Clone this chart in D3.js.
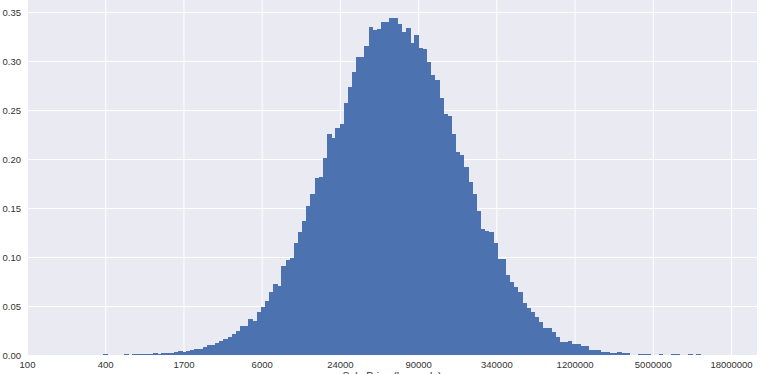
<!DOCTYPE html>
<html>
<head>
<meta charset="utf-8">
<script src="https://cdn.jsdelivr.net/npm/d3@7"></script>
<style>
  html, body { margin: 0; padding: 0; background: #ffffff; }
  svg { display: block; }
  text { font-family: "Liberation Sans", Arial, sans-serif; }
</style>
</head>
<body>
<svg id="chart" width="780" height="374"></svg>
<script>
// ---- data ----
// x axis is evenly spaced in log price; tick positions are indices 0..9
const xTickLabels = ["100", "400", "1700", "6000", "24000", "90000", "340000", "1200000", "5000000", "18000000"];
const yTickValues = [0.00, 0.05, 0.10, 0.15, 0.20, 0.25, 0.30, 0.35];
// histogram bins (in axis units of the x tick index)
const binStart = 0.974;
const binWidth = 0.0530;
const density = [
  0.0008, 0, 0, 0, 0, 0.0008, 0, 0.0006, 0.0008, 0.0008,
  0.001, 0.001, 0.002, 0.0015, 0.002, 0.002, 0.0025, 0.003, 0.0045, 0.003,
  0.004, 0.005, 0.006, 0.0065, 0.008, 0.0102, 0.0102, 0.0126, 0.0146, 0.016,
  0.0187, 0.0214, 0.024, 0.0296, 0.030, 0.037, 0.0347, 0.044, 0.049, 0.055,
  0.064, 0.072, 0.0707, 0.091, 0.097, 0.099, 0.114, 0.126, 0.137, 0.152,
  0.164, 0.181, 0.182, 0.2007, 0.225, 0.221, 0.232, 0.2354, 0.2575, 0.273,
  0.289, 0.3044, 0.3044, 0.3153, 0.335, 0.332, 0.3327, 0.340, 0.3395, 0.344,
  0.344, 0.3378, 0.330, 0.334, 0.3187, 0.3265, 0.313, 0.312, 0.2986, 0.2857,
  0.2806, 0.262, 0.246, 0.244, 0.225, 0.2075, 0.204, 0.192, 0.176, 0.164,
  0.147, 0.1286, 0.1265, 0.125, 0.114, 0.0976, 0.0976, 0.0816, 0.074, 0.0697,
  0.064, 0.0527, 0.048, 0.044, 0.0384, 0.0333, 0.0279, 0.0279, 0.0238, 0.0187,
  0.0136, 0.0133, 0.0143, 0.011, 0.011, 0.0095, 0.0095, 0.0051, 0.0051, 0.0051,
  0.0034, 0.0034, 0.0024, 0.0024, 0.0034, 0.0017, 0.0024, 0.0004, 0.0004, 0.0014,
  0.0014, 0.0012, 0.0004, 0.0003, 0.0008, 0, 0, 0.0006, 0.0006, 0,
  0, 0.0006, 0, 0.0006
];
const xAxisLabel = "Sale Price (log scale)";

// ---- layout ----
const svg = d3.select("#chart");
const plot = { left: 27, right: 757, top: 0, bottom: 355 };

const x = d3.scaleLinear().domain([0, 9.332]).range([plot.left, plot.right]);
const y = d3.scaleLinear().domain([0, 0.3622]).range([plot.bottom, plot.top]);

// background
svg.append("rect")
  .attr("x", plot.left).attr("y", plot.top)
  .attr("width", plot.right - plot.left).attr("height", plot.bottom - plot.top)
  .attr("fill", "#EAEAF2");

// grid
const gx = svg.append("g")
  .attr("transform", `translate(0,${plot.bottom})`)
  .call(d3.axisBottom(x).tickValues(d3.range(xTickLabels.length))
        .tickFormat(i => xTickLabels[i])
        .tickSize(-(plot.bottom - plot.top)).tickPadding(6));
gx.select(".domain").remove();
gx.selectAll(".tick line").attr("stroke", "#ffffff").attr("stroke-width", 1);
gx.selectAll(".tick text").attr("fill", "#333333").attr("font-size", "9.5px")
  .style("font-family", '"Liberation Sans", Arial, sans-serif');

const gy = svg.append("g")
  .attr("transform", `translate(${plot.left},0)`)
  .call(d3.axisLeft(y).tickValues(yTickValues).tickFormat(d3.format(".2f"))
        .tickSize(-(plot.right - plot.left)).tickPadding(6));
gy.select(".domain").remove();
gy.selectAll(".tick line").attr("stroke", "#ffffff").attr("stroke-width", 1);
gy.selectAll(".tick text").attr("fill", "#333333").attr("font-size", "9.5px")
  .style("font-family", '"Liberation Sans", Arial, sans-serif');

// bars
svg.append("g")
  .attr("shape-rendering", "crispEdges")
  .selectAll("rect")
  .data(density)
  .join("rect")
  .attr("x", (d, i) => x(binStart + i * binWidth))
  .attr("width", (d, i) => x(binStart + (i + 1) * binWidth) - x(binStart + i * binWidth) + 0.6)
  .attr("y", d => y(d))
  .attr("height", d => y(0) - y(d))
  .attr("fill", "#4C72B0");

// x axis label (mostly cut off at the bottom edge, as in the reference)
svg.append("text")
  .attr("x", (plot.left + plot.right) / 2)
  .attr("y", 380)
  .attr("text-anchor", "middle")
  .attr("font-size", "10.5px")
  .attr("fill", "#333333")
  .text(xAxisLabel);
</script>
</body>
</html>
